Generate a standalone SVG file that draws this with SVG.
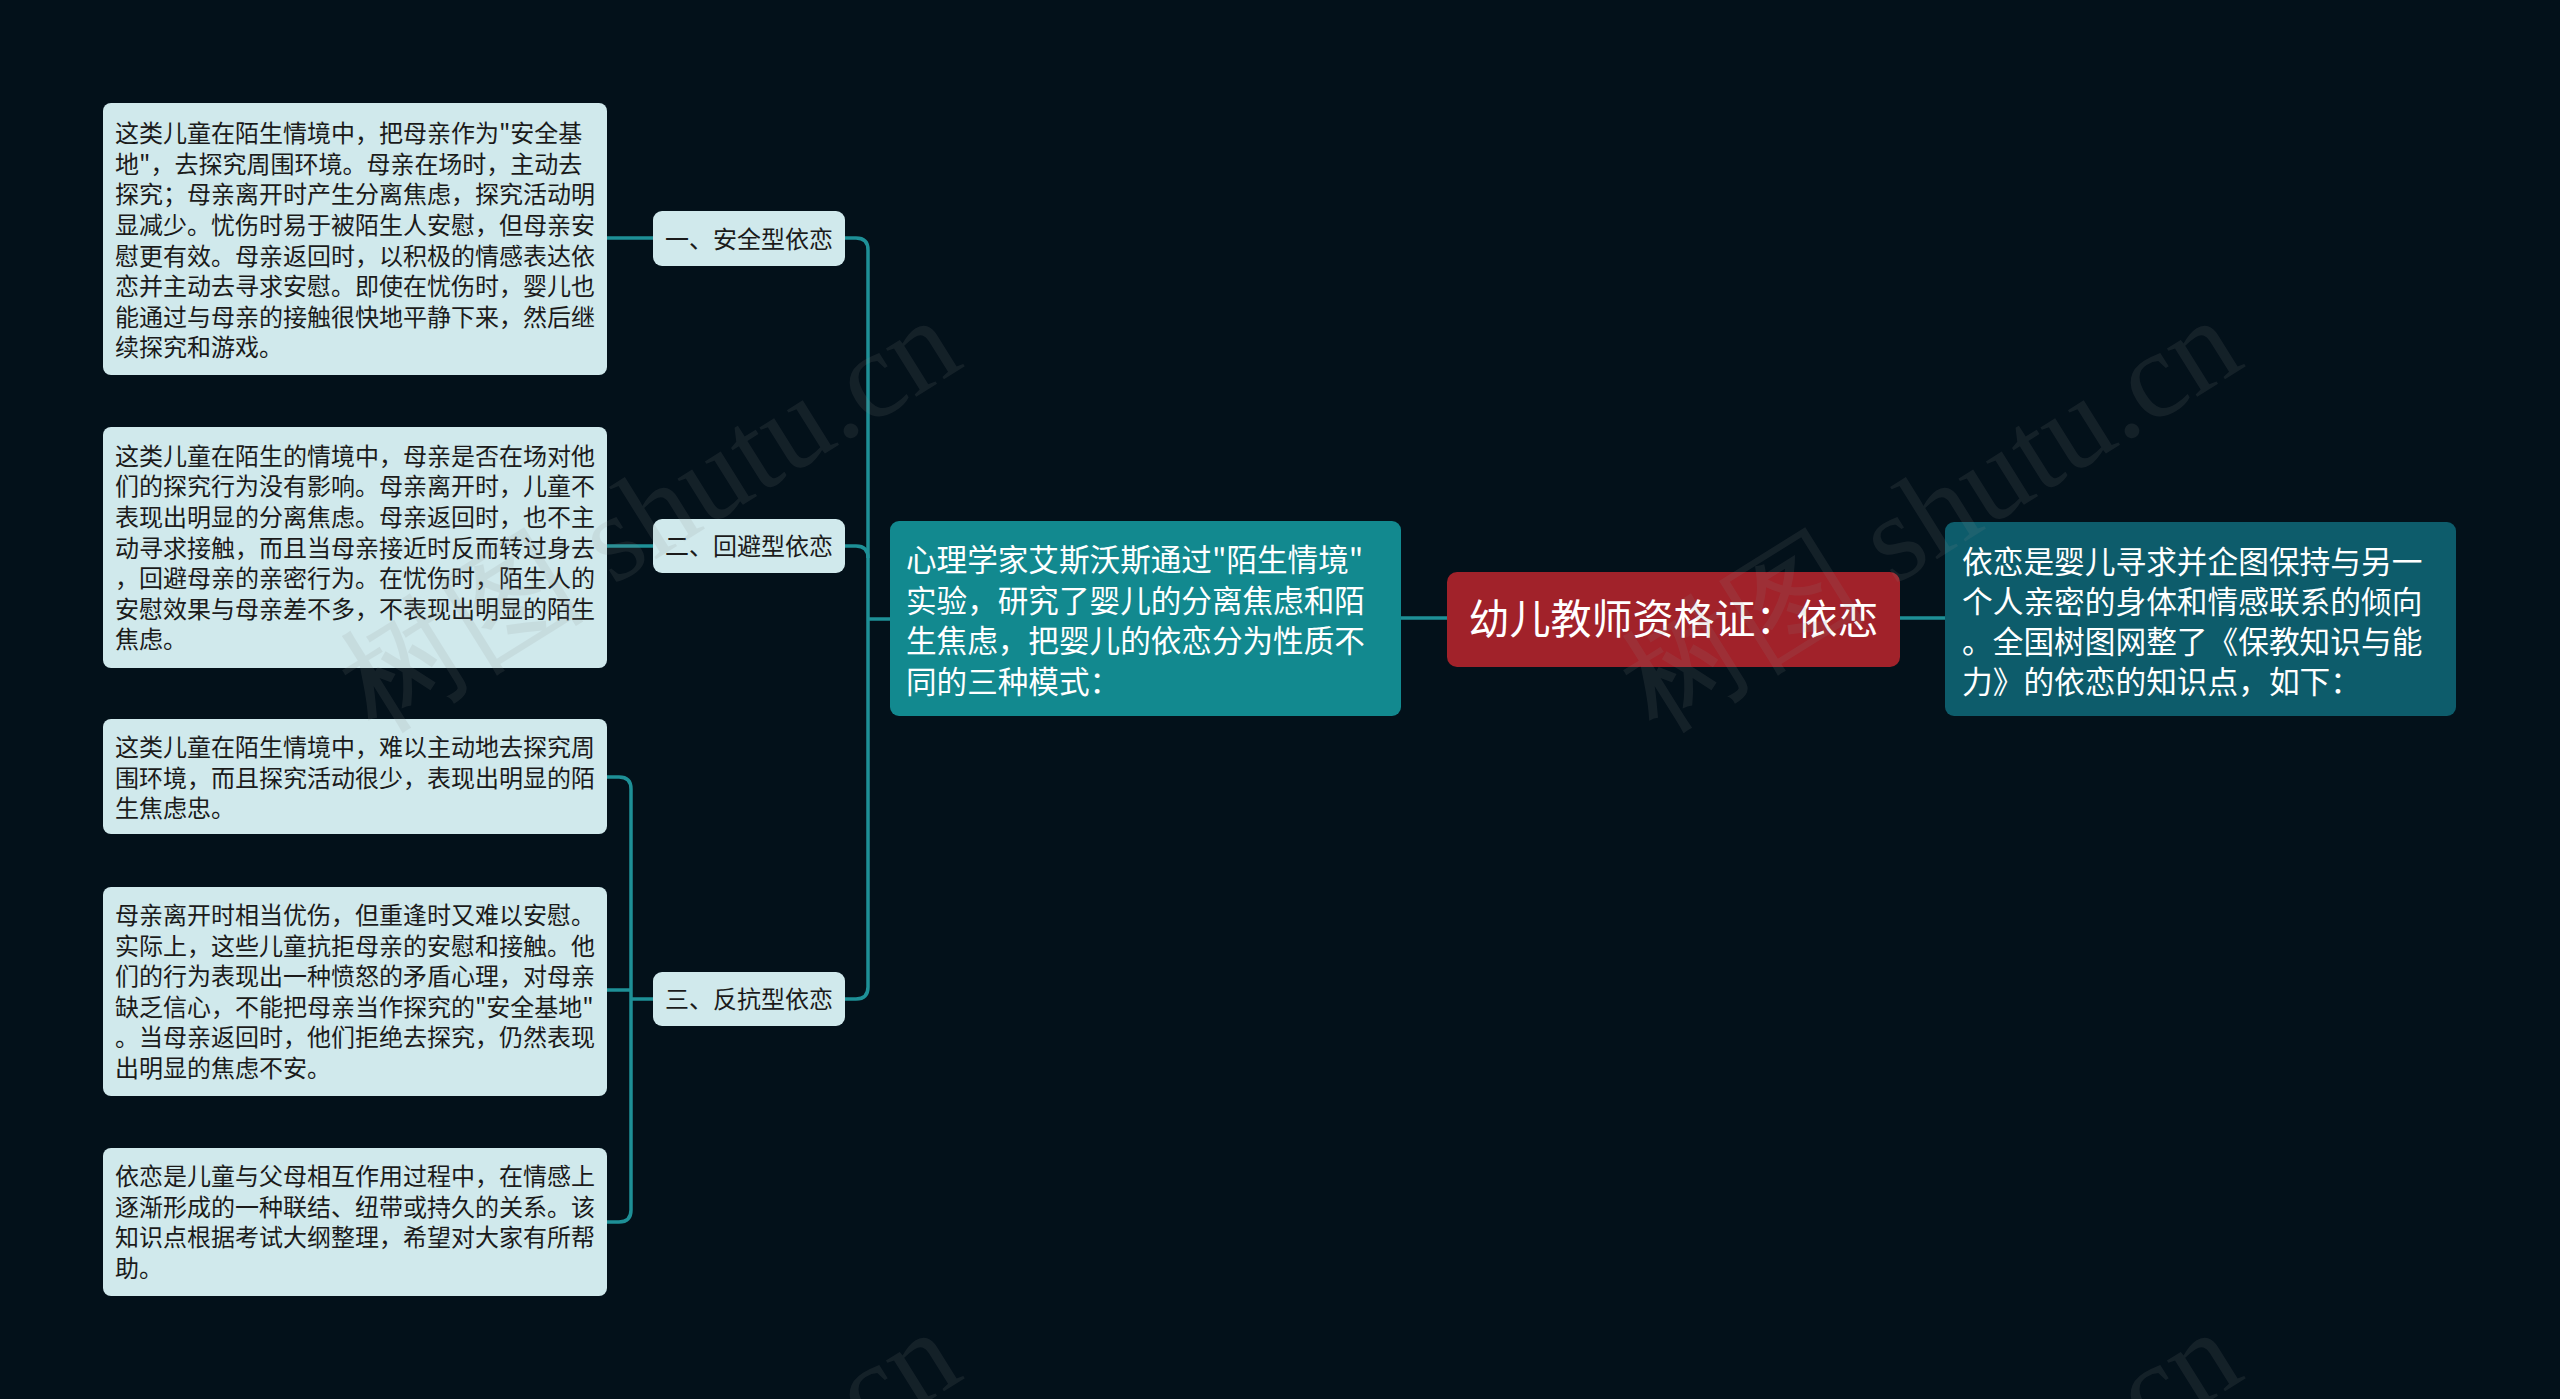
<svg xmlns="http://www.w3.org/2000/svg" width="2560" height="1399" viewBox="0 0 2560 1399">
<style>
.t{font-family:"Noto Sans CJK SC","Noto Sans",sans-serif}
.leaf rect{fill:#d0e9ec}
.leaf text{fill:#1b1b1b;font-size:24px}
.sub rect{fill:#d0e9ec}
.sub text{fill:#1b1b1b;font-size:24px;text-anchor:middle}
.conn path{fill:none;stroke:#1e9097;stroke-width:3.5}
.wm{font-family:"Liberation Serif",serif;font-size:124px;fill:#8a8a8a;opacity:0.13}
</style>
<rect width="2560" height="1399" fill="#03111a"/>

<g id="connectors" class="conn">
<path d="M607,238 H653"/>
<path d="M607,546 H653"/>
<path d="M607,777 H619 Q631,777 631,789 V1210 Q631,1222 619,1222 H607"/>
<path d="M607,990 H631"/>
<path d="M631,999 H653"/>
<path d="M845,238 H856 Q868,238 868,250 V987 Q868,999 856,999 H845"/>
<path d="M845,546 H856 Q868,546 868,558"/>
<path d="M868,619 H890"/>
<path d="M1401,618 H1447"/>
<path d="M1900,618 H1945"/>
</g>

<g id="root">
<rect x="1447" y="572" width="453" height="95" rx="10" fill="#a1222a"/>
<text class="t" x="1673.5" y="633.5" font-size="41" fill="#ffffff" text-anchor="middle">幼儿教师资格证：依恋</text>
</g>

<g id="intro">
<rect x="1945" y="522" width="511" height="194" rx="9" fill="#0d5c6b"/>
<text class="t" font-size="30.7" fill="#ffffff">
<tspan x="1962" y="573">依恋是婴儿寻求并企图保持与另一</tspan>
<tspan x="1962" y="613">个人亲密的身体和情感联系的倾向</tspan>
<tspan x="1962" y="653">。全国树图网整了《保教知识与能</tspan>
<tspan x="1962" y="693">力》的依恋的知识点，如下：</tspan>
</text>
</g>

<g id="strange-situation">
<rect x="890" y="521" width="511" height="195" rx="9" fill="#12898f"/>
<text class="t" font-size="30.6" fill="#ffffff">
<tspan x="906" y="571">心理学家艾斯沃斯通过"陌生情境"</tspan>
<tspan x="906" y="611.5">实验，研究了婴儿的分离焦虑和陌</tspan>
<tspan x="906" y="652">生焦虑，把婴儿的依恋分为性质不</tspan>
<tspan x="906" y="692.5">同的三种模式：</tspan>
</text>
</g>

<g id="type1" class="sub">
<rect x="653" y="211" width="192" height="55" rx="9"/>
<text class="t" x="749" y="247.5">一、安全型依恋</text>
</g>
<g id="type2" class="sub">
<rect x="653" y="519" width="192" height="54" rx="9"/>
<text class="t" x="749" y="555">二、回避型依恋</text>
</g>
<g id="type3" class="sub">
<rect x="653" y="972" width="192" height="54" rx="9"/>
<text class="t" x="749" y="1008">三、反抗型依恋</text>
</g>

<g id="leaf1" class="leaf">
<rect x="103" y="103" width="504" height="272" rx="8"/>
<text class="t">
<tspan x="115" y="142.1">这类儿童在陌生情境中，把母亲作为"安全基</tspan>
<tspan x="115" y="172.7">地"，去探究周围环境。母亲在场时，主动去</tspan>
<tspan x="115" y="203.3">探究；母亲离开时产生分离焦虑，探究活动明</tspan>
<tspan x="115" y="233.9">显减少。忧伤时易于被陌生人安慰，但母亲安</tspan>
<tspan x="115" y="264.5">慰更有效。母亲返回时，以积极的情感表达依</tspan>
<tspan x="115" y="295.1">恋并主动去寻求安慰。即使在忧伤时，婴儿也</tspan>
<tspan x="115" y="325.7">能通过与母亲的接触很快地平静下来，然后继</tspan>
<tspan x="115" y="356.3">续探究和游戏。</tspan>
</text>
</g>

<g id="leaf2" class="leaf">
<rect x="103" y="427" width="504" height="241" rx="8"/>
<text class="t">
<tspan x="115" y="464.8">这类儿童在陌生的情境中，母亲是否在场对他</tspan>
<tspan x="115" y="495.4">们的探究行为没有影响。母亲离开时，儿童不</tspan>
<tspan x="115" y="526">表现出明显的分离焦虑。母亲返回时，也不主</tspan>
<tspan x="115" y="556.6">动寻求接触，而且当母亲接近时反而转过身去</tspan>
<tspan x="115" y="587.2">，回避母亲的亲密行为。在忧伤时，陌生人的</tspan>
<tspan x="115" y="617.8">安慰效果与母亲差不多，不表现出明显的陌生</tspan>
<tspan x="115" y="648.4">焦虑。</tspan>
</text>
</g>

<g id="leaf3" class="leaf">
<rect x="103" y="719" width="504" height="115" rx="8"/>
<text class="t">
<tspan x="115" y="756">这类儿童在陌生情境中，难以主动地去探究周</tspan>
<tspan x="115" y="786.6">围环境，而且探究活动很少，表现出明显的陌</tspan>
<tspan x="115" y="817.2">生焦虑忠。</tspan>
</text>
</g>

<g id="leaf4" class="leaf">
<rect x="103" y="887" width="504" height="209" rx="8"/>
<text class="t">
<tspan x="115" y="924">母亲离开时相当优伤，但重逢时又难以安慰。</tspan>
<tspan x="115" y="954.6">实际上，这些儿童抗拒母亲的安慰和接触。他</tspan>
<tspan x="115" y="985.2">们的行为表现出一种愤怒的矛盾心理，对母亲</tspan>
<tspan x="115" y="1015.8">缺乏信心，不能把母亲当作探究的"安全基地"</tspan>
<tspan x="115" y="1046.4">。当母亲返回时，他们拒绝去探究，仍然表现</tspan>
<tspan x="115" y="1077">出明显的焦虑不安。</tspan>
</text>
</g>

<g id="leaf5" class="leaf">
<rect x="103" y="1148" width="504" height="148" rx="8"/>
<text class="t">
<tspan x="115" y="1185.2">依恋是儿童与父母相互作用过程中，在情感上</tspan>
<tspan x="115" y="1215.8">逐渐形成的一种联结、纽带或持久的关系。该</tspan>
<tspan x="115" y="1246.4">知识点根据考试大纲整理，希望对大家有所帮</tspan>
<tspan x="115" y="1277">助。</tspan>
</text>
</g>

<g id="watermarks">
<text class="wm" x="649" y="556" text-anchor="middle" transform="rotate(-32 649 514)">树图 shutu.cn</text>
<text class="wm" x="1930" y="556" text-anchor="middle" transform="rotate(-32 1930 514)">树图 shutu.cn</text>
<text class="wm" x="649" y="1568" text-anchor="middle" transform="rotate(-32 649 1526)">树图 shutu.cn</text>
<text class="wm" x="1930" y="1568" text-anchor="middle" transform="rotate(-32 1930 1526)">树图 shutu.cn</text>
</g>
</svg>
